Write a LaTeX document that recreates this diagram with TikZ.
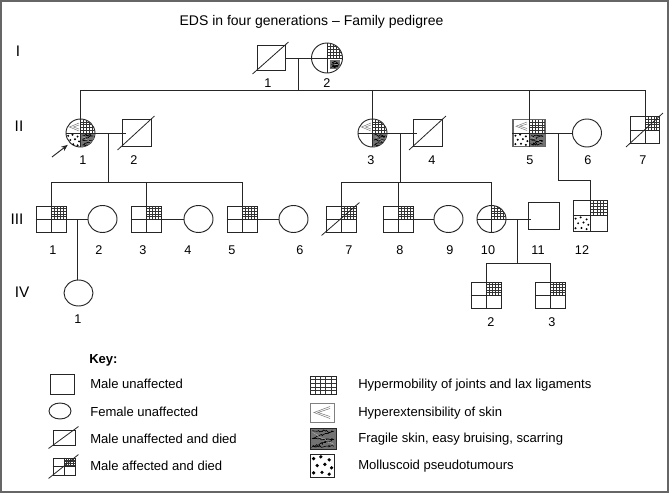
\documentclass[tikz,border=0pt]{standalone}
\usepackage{fontspec}
\setmainfont{Liberation Sans}
\usetikzlibrary{shapes.geometric,calc,arrows.meta,decorations.pathmorphing}

\tikzset{
 ind/.style={draw=black!85, line width=0.7pt, inner sep=0pt},
 male/.style={ind, rectangle, minimum width=21.75pt, minimum height=20.25pt},
 female/.style={ind, ellipse, minimum width=21.75pt, minimum height=21pt},
 malethree/.style={ind, rectangle, minimum width=22.5pt, minimum height=19.5pt},
 femalethree/.style={ind, ellipse, minimum width=21.75pt, minimum height=20.25pt},
 lbl/.style={font=\fontsize{9.5}{11}\selectfont, inner sep=0pt},
 gen/.style={font=\fontsize{11.5}{13}\selectfont, inner sep=0pt},
 keytxt/.style={font=\fontsize{9.8}{12}\selectfont, anchor=base west, inner sep=0pt},
 titletxt/.style={font=\fontsize{10.5}{12}\selectfont, anchor=base, inner sep=0pt},
 conn/.style={draw=black!85, line width=0.7pt},
 died/.style={draw=black!85, line width=0.6pt},
 gline/.style={black!80, line width=0.3pt},
 hline/.style={black!50, line width=0.4pt},
}

\newcommand\pgrid[4]{\foreach \k in {1,2,3,4}{%
  \draw[gline] ({#1+(#3-#1)*\k/5},#2) -- ({#1+(#3-#1)*\k/5},#4);
  \draw[gline] (#1,{#2+(#4-#2)*\k/5}) -- (#3,{#2+(#4-#2)*\k/5});}}
\newcommand\phyp[4]{%
  \draw[hline] ({#3},{#2}) -- ({#1},{(#2+#4)/2}) -- ({#3},{#4});
  \draw[hline] ({#3},{#2+2}) -- ({#1+4},{(#2+#4)/2}) -- ({#3},{#4-2});}
\newcommand\pfrag[4]{%
  \fill[black!55] (#1,#2) rectangle (#3,#4);
  \draw[black, line width=0.45pt, decorate, decoration={random steps,segment length=1pt,amplitude=0.8pt}]
    ({#1+2},{#2+2}) -- ({#3-2},{#2+3}) -- ({#1+2},{(#2+#4)/2}) -- ({#3-2},{(#2+#4)/2+1}) -- ({#1+2},{#4-2}) -- ({#3-2},{#4-2});
  \draw[white!70!black, line width=0.3pt, decorate, decoration={random steps,segment length=1pt,amplitude=0.6pt}]
    ({#1+2},{#2+4}) -- ({#3-2},{#4-4});}
\newcommand\pdots[5][1.1]{\foreach \u/\v in {.15/.2,.45/.12,.8/.25,.3/.5,.62/.45,.9/.6,.15/.82,.5/.8,.8/.88}{%
  \fill ({#2+(#4-#2)*\u},{#3+(#5-#3)*\v}) circle [radius=#1];}}
\newcommand\cross[1]{\draw[conn] (#1.west) -- (#1.east) (#1.north) -- (#1.south);}
\newcommand\dead[1]{\draw[died] ($(#1.south west)+(-4,3)$) -- ($(#1.north east)+(3,-3)$);}

\begin{document}
\begin{tikzpicture}[x=0.75pt,y=-0.75pt]
\useasboundingbox (0,0) rectangle (669,493);
\fill[white] (0,0) rectangle (669,493);
\draw[black!60, line width=1.5pt] (1,1) rectangle (668,492);

\node[titletxt] (title) at (311.5,25) {EDS in four generations – Family pedigree};

% generation labels
\node[gen] (gI) at (18,51) {I};
\node[gen] (gII) at (19,126) {II};
\node[gen] (gIII) at (17,219) {III};
\node[gen] (gIV) at (22,292) {IV};

% ---------- Generation I
\node[male, minimum width=21pt, minimum height=18.75pt] (I1) at (271,58) {};
\node[female, minimum width=23.25pt, minimum height=22.5pt] (I2) at (327,58) {};
\dead{I1}
\begin{scope}[shift={(I2.center)}]
 \clip (0,0) ellipse [x radius=15.5, y radius=15];
 \pgrid{0}{-15}{15.5}{0}
 \pfrag{3}{2}{13}{11}
\end{scope}
\cross{I2}
\node[lbl] (lI1) at (268,83) {1};
\node[lbl] (lI2) at (327,83) {2};

% ---------- Generation II
\node[female] (II1) at (80.5,133) {};
\node[male] (II2) at (136.5,133) {};
\node[female] (II3) at (372.5,133) {};
\node[male] (II4) at (428,133) {};
\node[male, minimum width=24pt, draw=black!60, line width=1pt] (II5) at (529,133) {};
\node[female] (II6) at (587,133) {};
\node[male] (II7) at (645,130) {};

\begin{scope}[shift={(II1.center)}]
 \clip (0,0) ellipse [x radius=14.5, y radius=14];
 \phyp{-11}{-10}{-1.5}{-2}
 \pgrid{0}{-14}{14.5}{0}
 \pdots{-14.5}{0}{0}{14}
 \pfrag{0}{0}{14.5}{14}
\end{scope}
\cross{II1}
\dead{II2}

\begin{scope}[shift={(II3.center)}]
 \clip (0,0) ellipse [x radius=14.5, y radius=14];
 \phyp{-11}{-10}{-1.5}{-2}
 \pgrid{0}{-14}{14.5}{0}
 \pfrag{0}{0}{14.5}{14}
\end{scope}
\cross{II3}
\dead{II4}

\begin{scope}[shift={(II5.center)}]
 \phyp{-13}{-11}{-2}{-2.5}
 \pgrid{0}{-13.5}{16}{0}
 \pdots{-16}{0}{0}{13.5}
 \pfrag{0.4}{0.4}{15.6}{13.1}
\end{scope}
\cross{II5}

\begin{scope}[shift={(II7.center)}]
 \pgrid{0}{-13.5}{14.5}{0}
\end{scope}
\cross{II7}
\dead{II7}

\node[lbl] (lII1) at (83,160.5) {1};
\node[lbl] (lII2) at (134,160.5) {2};
\node[lbl] (lII3) at (371,160.5) {3};
\node[lbl] (lII4) at (432,160.5) {4};
\node[lbl] (lII5) at (530,160.5) {5};
\node[lbl] (lII6) at (588,160.5) {6};
\node[lbl] (lII7) at (643,160.5) {7};

% arrow to proband
\coordinate (arrtail) at (52,157);
\draw[conn, -{Stealth[length=5pt,width=4pt]}, shorten >=2pt] (arrtail) -- (II1.south west);

% connectors I -> II
\draw[conn] (I1.east) -- (I2.west);
\coordinate (mI) at ($(I1.east)!0.5!(I2.west)$);
\coordinate (sibI) at ($(mI)+(0,32)$);
\draw[conn] (mI) -- (sibI);
\draw[conn] (II1.north) -- (II1.north |- sibI) -- (II7.north |- sibI) -- (II7.north);
\draw[conn] (II3.north) -- (II3.north |- sibI);
\draw[conn] (II5.north) -- (II5.north |- sibI);

% marriages II
\draw[conn] (II1.east) -- ($(II2.west)+(4,0)$);
\coordinate (m12) at ($(II1.east)!0.5!(II2.west)$);
\draw[conn] (II3.east) -- ($(II4.west)+(4,0)$);
\coordinate (m34) at ($(II3.east)!0.5!(II4.west)$);
\draw[conn] (II5.east) -- (II6.west);
\coordinate (m56) at ($(II5.east)!0.5!(II6.west)$);

% ---------- Generation III
\node[malethree] (III1) at (51,219) {};
\node[femalethree] (III2) at (102.5,219) {};
\node[malethree] (III3) at (146,219) {};
\node[femalethree] (III4) at (198.5,219) {};
\node[malethree] (III5) at (242,219) {};
\node[femalethree] (III6) at (293.5,219) {};
\node[malethree] (III7) at (341,219) {};
\node[malethree] (III8) at (398,219) {};
\node[femalethree] (III9) at (448.5,219) {};
\node[femalethree] (III10) at (491.5,219) {};
\node[malethree, minimum width=23.25pt, minimum height=20.25pt] (III11) at (543.5,215.5) {};
\node[malethree, minimum width=25.5pt, minimum height=23.25pt] (III12) at (590,215.5) {};

\foreach \n in {III1,III3,III5,III7,III8}{
  \begin{scope}[shift={(\n.center)}]
   \pgrid{0}{-13}{15}{0}
  \end{scope}
  \cross{\n}
}
\dead{III7}
\begin{scope}[shift={(III10.center)}]
 \clip (0,0) ellipse [x radius=14.5, y radius=13.5];
 \pgrid{0}{-13.5}{14.5}{0}
\end{scope}
\cross{III10}
\begin{scope}[shift={(III12.center)}]
 \pgrid{0}{-15.5}{17}{0}
 \pdots{-17}{0}{0}{15.5}
\end{scope}
\cross{III12}

\node[lbl] (lIII1) at (53,250) {1};
\node[lbl] (lIII2) at (99,250) {2};
\node[lbl] (lIII3) at (143,250) {3};
\node[lbl] (lIII4) at (188,250) {4};
\node[lbl] (lIII5) at (232,250) {5};
\node[lbl] (lIII6) at (300,250) {6};
\node[lbl] (lIII7) at (349,250) {7};
\node[lbl] (lIII8) at (400,250) {8};
\node[lbl] (lIII9) at (450,250) {9};
\node[lbl] (lIII10) at (488,250) {10};
\node[lbl] (lIII11) at (538,250) {11};
\node[lbl] (lIII12) at (582,250) {12};

% connectors II -> III
\coordinate (sibA) at ($(m12)+(0,49)$);
\draw[conn] (m12) -- (sibA);
\draw[conn] (III1.north) -- (III1.north |- sibA) -- (III5.north |- sibA) -- (III5.north);
\draw[conn] (III3.north) -- (III3.north |- sibA);
\coordinate (sibB) at ($(m34)+(0,49)$);
\draw[conn] (m34) -- (sibB);
\draw[conn] (III7.north) -- (III7.north |- sibB) -- (III10.north |- sibB) -- (III10.north);
\draw[conn] (III8.north) -- (III8.north |- sibB);
\coordinate (sibC) at ($(m56)+(0,47)$);
\draw[conn] (m56) -- (sibC) -- (sibC -| III12.north) -- (III12.north);

% marriages III
\draw[conn] (III1.east) -- (III2.west);
\coordinate (mA) at ($(III1.east)!0.5!(III2.west)$);
\draw[conn] (III3.east) -- (III4.west);
\draw[conn] (III5.east) -- (III6.west);
\draw[conn] (III8.east) -- (III9.west);
\draw[conn] (III10.east) -- ($(III10.east -| III11.west)+(3,0)$);
\coordinate (mB) at ($(III10.east)!0.5!(III10.east -| III11.west)$);

% ---------- Generation IV
\node[female, minimum height=19.5pt] (IV1) at (78.5,293) {};
\node[malethree] (IV2) at (486,295) {};
\node[malethree] (IV3) at (550.5,295) {};
\foreach \n in {IV2,IV3}{
  \begin{scope}[shift={(\n.center)}]
   \pgrid{0}{-13}{15}{0}
  \end{scope}
  \cross{\n}
}
\node[lbl] (lIV1) at (78,319) {1};
\node[lbl] (lIV2) at (491,322) {2};
\node[lbl] (lIV3) at (552,322) {3};

\draw[conn] (mA) -- (mA |- IV1.north);
\coordinate (sibD) at ($(mB)+(0,44)$);
\draw[conn] (mB) -- (sibD);
\draw[conn] (IV2.north) -- (IV2.north |- sibD) -- (IV3.north |- sibD) -- (IV3.north);

% ---------- Key
\node[keytxt, font=\fontsize{9.8}{12}\selectfont\bfseries] (keyhead) at (89,363) {Key:};
\node[male, minimum width=18pt, minimum height=15pt] (K1) at (62,384) {};
\node[female, minimum width=16.5pt, minimum height=12pt] (K2) at (60,411) {};
\node[male, minimum width=16.5pt, minimum height=11.25pt] (K3) at (64,437.5) {};
\node[male, minimum width=16.5pt, minimum height=12.75pt] (K4) at (64,466.5) {};
\dead{K3}
\begin{scope}[shift={(K4.center)}]
 \pgrid{0}{-8.5}{11}{0}
\end{scope}
\cross{K4}
\dead{K4}
\node[keytxt] (t1) at (90,388) {Male unaffected};
\node[keytxt] (t2) at (90,416) {Female unaffected};
\node[keytxt] (t3) at (90,443) {Male unaffected and died};
\node[keytxt] (t4) at (90,470.5) {Male affected and died};

\node[male, minimum width=19.5pt, minimum height=13.5pt] (S1) at (323,385) {};
\node[male, draw=black!50, minimum width=18pt, minimum height=14.25pt] (S2) at (322,412.5) {};
\node[male, minimum width=19.5pt, minimum height=15.75pt] (S3) at (323,438.5) {};
\node[male, minimum width=18pt, minimum height=17.25pt] (S4) at (322,465.5) {};
\begin{scope}[shift={(S1.center)}]
 \pgrid{-13}{-9}{13}{9}
\end{scope}
\begin{scope}[shift={(S2.center)}]
 \phyp{-8}{-6}{8}{6}
\end{scope}
\begin{scope}[shift={(S3.center)}]
 \pfrag{-12.5}{-10}{12.5}{10}
\end{scope}
\begin{scope}[shift={(S4.center)}]
 \pdots[1.8]{-12}{-11.5}{12}{11.5}
\end{scope}
\node[keytxt] (t5) at (358,388) {Hypermobility of joints and lax ligaments};
\node[keytxt] (t6) at (358,416) {Hyperextensibility of skin};
\node[keytxt] (t7) at (358,442.5) {Fragile skin, easy bruising, scarring};
\node[keytxt] (t8) at (358,469) {Molluscoid pseudotumours};
\end{tikzpicture}
\end{document}
